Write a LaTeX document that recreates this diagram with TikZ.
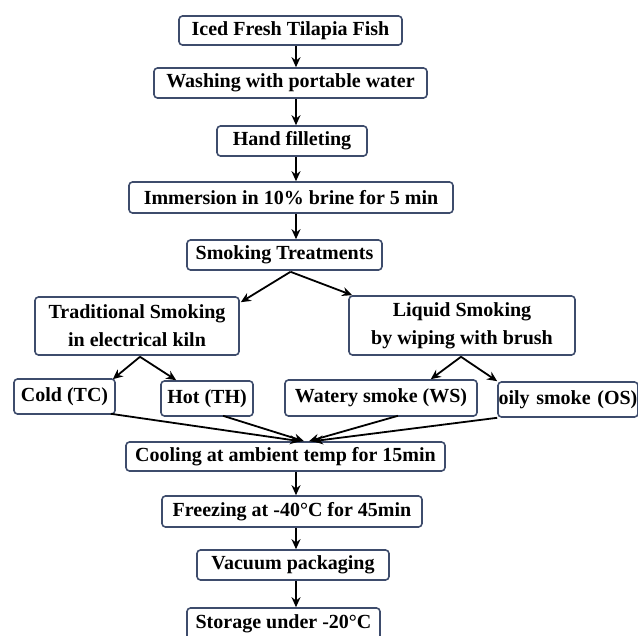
\documentclass[tikz,border=0pt]{standalone}
\usepackage{fontspec}
\setmainfont{Liberation Serif}
\usetikzlibrary{arrows.meta,calc}
\definecolor{boxc}{HTML}{3E4C6C}
\tikzset{
  box/.style={draw=boxc, line width=1.6pt, rounded corners=3.5pt, fill=white,
    inner sep=0pt, font=\fontsize{20}{28}\selectfont\bfseries, align=center},
  arr/.style={line width=1.8pt, draw=black, -{Stealth[length=10pt,width=9pt]}},
}
\begin{document}
\begin{tikzpicture}[x=1pt,y=-1pt]
\useasboundingbox[fill=white] (0,0) rectangle (638,636);
\coordinate (ax) at (296,0);
\node[box, minimum width=223pt, minimum height=29pt] (n1) at (290.5,30.5) {Iced Fresh Tilapia Fish};
\node[box, minimum width=273pt, minimum height=30pt] (n2) at (290.5,83) {Washing with portable water};
\node[box, minimum width=150pt, minimum height=30pt] (n3) at (292,141) {Hand filleting};
\node[box, minimum width=324pt, minimum height=31pt] (n4) at (291,197.5) {Immersion in 10\% brine for 5 min};
\node[box, minimum width=195pt, minimum height=30pt] (n5) at (284.5,255) {Smoking Treatments};
\node[box, minimum width=204pt, minimum height=58pt] (n6) at (137,326) {Traditional Smoking\\in electrical kiln};
\node[box, minimum width=226pt, minimum height=59pt] (n7) at (462,325.5) {Liquid Smoking\\by wiping with brush};
\node[box, minimum width=101pt, minimum height=35pt] (n8) at (64.5,396.5) {Cold (TC)};
\node[box, minimum width=92pt, minimum height=35pt] (n9) at (207,398.5) {Hot (TH)};
\node[box, minimum width=192pt, minimum height=36pt] (n10) at (381,398) {Watery smoke (WS)};
\node[box, minimum width=140pt, minimum height=35pt, text width=139pt, align=left] (n11) at (568,399.5) {oily smoke (OS)};
\node[box, minimum width=319pt, minimum height=29pt] (n12) at (285.5,456.5) {Cooling at ambient temp for 15min};
\node[box, minimum width=260pt, minimum height=31pt] (n13) at (292,511.5) {Freezing at -40°C for 45min};
\node[box, minimum width=192pt, minimum height=30pt] (n14) at (293,565) {Vacuum packaging};
\node[box, minimum width=193pt, minimum height=32pt] (n15) at (283.5,624) {Storage under -20°C};
% vertical arrows
\draw[arr] (n1.south -| ax) -- (n2.north -| ax);
\draw[arr] (n2.south -| ax) -- (n3.north -| ax);
\draw[arr] (n3.south -| ax) -- (n4.north -| ax);
\draw[arr] (n4.south -| ax) -- (n5.north -| ax);
\draw[arr] (n12.south -| ax) -- (n13.north -| ax);
\draw[arr] (n13.south -| ax) -- (n14.north -| ax);
\draw[arr] (n14.south -| ax) -- (n15.north -| ax);
% branches
\draw[arr] ($(n5.south)+(6,1)$) -- ($(n6.north east)+(1,6)$);
\draw[arr] ($(n5.south)+(6,1)$) -- ($(n7.north west)+(4,0)$);
\draw[arr] ($(n6.south)+(3,1)$) -- ($(n8.north east)+(-3,1)$);
\draw[arr] ($(n6.south)+(3,1)$) -- ($(n9.north west)+(16,0)$);
\draw[arr] ($(n7.south)+(-1,1)$) -- ($(n10.north east)+(-47,0)$);
\draw[arr] ($(n7.south)+(-1,1)$) -- (n11.north west);
% converging
\draw[arr] ($(n8.south east)+(-5,-1)$) -- ($(n12.north)+(14.5,0)$);
\draw[arr] ($(n9.south)+(16,-1)$) -- ($(n12.north)+(18.5,0)$);
\draw[arr] ($(n10.south)+(17,-1)$) -- ($(n12.north)+(23.5,0)$);
\draw[arr] (n11.south west) -- ($(n12.north)+(27.5,0)$);
\end{tikzpicture}
\end{document}
